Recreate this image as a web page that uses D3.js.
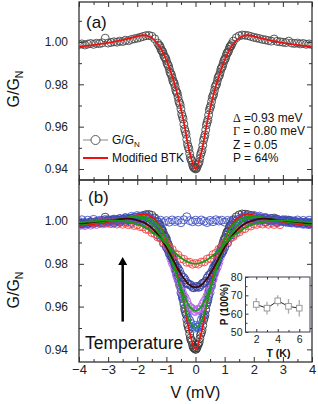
<!DOCTYPE html>
<html lang="en">
<head>
<meta charset="UTF-8">
<title>G/GN vs V</title>
<style>
  body { margin: 0; background: #fff; }
  svg { display: block; font-family: "Liberation Sans", Arial, sans-serif; }
</style>
</head>
<body>
<svg width="318" height="404"></svg>
<script src="https://d3js.org/d3.v7.min.js"></script>
<script>
// bias grids in mV (data sampled finer across the dip for the 2 K curve)
const vFine = [...d3.range(-40, -12).map(i => i / 10), ...d3.range(-25, 26).map(i => i / 20), ...d3.range(13, 41).map(i => i / 10)];
const vData = d3.range(-40, 41).map(i => i / 10);
const vFit = d3.range(-20, 21).map(i => i / 5);
// return sweeps, only across the dip
const vRet2K = d3.range(-49, 50, 2).map(i => i / 40);
const vRet = d3.range(-19, 20, 2).map(i => i / 20);

// 2 K data, panel (a) and lowest curve of panel (b)
const g2K = [
  .9988, .9991, .9986, .9990, .9993, .9989, .9994, .9992, .9996, 1.0018,
  .9995, .9998, 1.0001, .9999, 1.0004, 1.0002, 1.0008, 1.0006, 1.0012, 1.0015,
  1.0018, 1.0022, 1.0026, 1.0030, 1.0031, 1.0027, 1.0015, .9995,
  .9985, .9972, .9958, .9942, .9928, .9912, .9893, .9872, .9851, .9830,
  .9810, .9788, .9764, .9740, .9712, .9683, .9648, .9612, .9577, .9540,
  .9505, .9472, .9443, .9420, .9406, .9400,
  .9408, .9425, .9450, .9478, .9512, .9548, .9585, .9620, .9655, .9690,
  .9718, .9746, .9771, .9795, .9817, .9838, .9858, .9879, .9898, .9917,
  .9934, .9950, .9965, .9980, .9992,
  1.0004, 1.0020, 1.0029, 1.0033, 1.0032, 1.0030, 1.0026, 1.0022, 1.0019, 1.0016,
  1.0012, 1.0010, 1.0007, 1.0004, 1.0014, 1.0003, 1.0001, .9999, .9997, 1.0004,
  .9995, .9993, .9995, .9991, .9993, .9989, .9991, .9988
];
const g2KRet = [
  .9981, .9962, .9953, .9931, .9923, .9898, .9886, .9857, .9844, .9816,
  .9803, .9771, .9757, .9721, .9703, .9660, .9636, .9589, .9564, .9517,
  .9494, .9453, .9436, .9410, .9405,
  .9402, .9420, .9433, .9469, .9490, .9536, .9561, .9608, .9632, .9678,
  .9699, .9737, .9754, .9788, .9802, .9832, .9844, .9873, .9885, .9911,
  .9922, .9946, .9954, .9976, .9983
];
const g3K = [
  .9988, .9984, .9990, .9986, .9992, .9989, .9995, .9992, .9998, .9995,
  1.0003, .9999, 1.0006, 1.0003, 1.0010, 1.0008, 1.0016, 1.0013, 1.0022, 1.0019,
  1.0026, 1.0022, 1.0025, 1.0016, 1.0015, 1.0003, .9999, .9980, .9970, .9940,
  .9918, .9872, .9836, .9776, .9731, .9665, .9621, .9566, .9536, .9505,
  .9512,
  .9503, .9538, .9565, .9622, .9666, .9731, .9778, .9836, .9873, .9918,
  .9940, .9970, .9981, 1.0000, 1.0003, 1.0016, 1.0015, 1.0026, 1.0021, 1.0027,
  1.0019, 1.0023, 1.0014, 1.0017, 1.0008, 1.0011, 1.0003, 1.0007, .9999, 1.0003,
  .9995, .9999, .9991, .9996, .9988, .9993, .9985, .9990, .9983, .9988
];
const g3KRet = [
  .9896, .9851, .9810, .9752, .9701, .9640, .9595, .9546, .9521, .9499,
  .9504, .9515, .9552, .9589, .9646, .9695, .9758, .9804, .9858, .9890
];
const g4K = [
  .9978, .9983, .9979, .9985, .9981, .9987, .9984, .9990, .9987, .9993,
  .9991, .9997, .9994, 1.0000, .9998, 1.0004, 1.0002, 1.0008, 1.0005, 1.0012,
  1.0009, 1.0014, 1.0008, 1.0007, .9995, .9988, .9970, .9957, .9932, .9911,
  .9876, .9847, .9805, .9770, .9725, .9690, .9650, .9625, .9597, .9588,
  .9577,
  .9588, .9598, .9624, .9651, .9690, .9726, .9771, .9806, .9848, .9877,
  .9911, .9933, .9957, .9971, .9988, .9996, 1.0007, 1.0009, 1.0016, 1.0014,
  1.0019, 1.0014, 1.0016, 1.0010, 1.0012, 1.0006, 1.0008, 1.0002, 1.0004, .9998,
  1.0000, .9994, .9997, .9991, .9994, .9988, .9991, .9985, .9988, .9982
];
const g4KRet = [
  .9866, .9824, .9791, .9745, .9711, .9667, .9640, .9607, .9594, .9579,
  .9585, .9588, .9613, .9634, .9673, .9705, .9751, .9785, .9830, .9860
];
const g5K = [
  .9992, .9987, .9993, .9989, .9996, .9992, .9999, .9995, 1.0003, .9999,
  1.0006, 1.0002, 1.0009, 1.0005, 1.0012, 1.0007, 1.0014, 1.0008, 1.0013, 1.0004,
  1.0007, .9997, .9998, .9985, .9982, .9964, .9957, .9935, .9923, .9896,
  .9880, .9849, .9830, .9798, .9779, .9750, .9735, .9711, .9704, .9690,
  .9693,
  .9690, .9703, .9712, .9734, .9751, .9778, .9799, .9829, .9850, .9879,
  .9897, .9922, .9936, .9956, .9965, .9981, .9986, .9997, .9998, 1.0006,
  1.0004, 1.0013, 1.0008, 1.0014, 1.0007, 1.0012, 1.0005, 1.0009, 1.0002, 1.0006,
  .9999, 1.0003, .9995, 1.0000, .9992, .9997, .9989, .9994, .9987, .9992
];
const g5KRet = [
  .9868, .9837, .9817, .9786, .9767, .9739, .9725, .9704, .9699, .9688,
  .9694, .9693, .9710, .9719, .9745, .9761, .9792, .9811, .9843, .9862
];
const g6K = [
  null, null, null, null, null, .9993, .9998, .9991, .9996, .9989,
  .9995, .9988, .9994, .9986, .9993, .9985, .9991, .9983, .9987, .9979,
  .9982, .9974, .9973, .9962, .9960, .9946, .9942, .9926, .9920, .9902,
  .9894, .9874, .9867, .9847, .9841, .9824, .9821, .9807, .9807, .9798,
  .9802,
  .9799, .9808, .9809, .9822, .9826, .9843, .9849, .9868, .9876, .9895,
  .9903, .9921, .9928, .9944, .9949, .9962, .9965, .9977, .9977, .9987,
  .9984, .9992, .9986, .9993, .9985, .9992, .9984, .9991, .9983, null,
  null, null, null, null, null, null, null, null, null, null
];
const gHighT = [
  .9998, 1.0006, .9992, 1.0004, .9997, 1.0008, .9995, 1.0003, .9993, 1.0007,
  .9999, 1.0005, .9991, 1.0002, .9996, 1.0006, .9998, 1.0004, .9994, 1.0007,
  1.0000, 1.0009, 1.0016, 1.0025, 1.0018, 1.0006, 1.0010, .9999, 1.0004, .9993,
  1.0002, .9995, 1.0005, .9998, 1.0003, .9992, 1.0006, 1.0020, 1.0002, .9997,
  1.0004,
  .9996, 1.0005, .9999, .9993, 1.0003, .9997, 1.0006, 1.0000, 1.0004, .9995,
  1.0003, .9998, 1.0007, 1.0001, 1.0010, 1.0015, 1.0022, 1.0013, 1.0006, 1.0018,
  1.0009, 1.0002, 1.0006, .9997, 1.0004, 1.0000, 1.0007, .9995, 1.0003, .9998,
  1.0006, .9993, 1.0002, .9997, 1.0005, .9994, 1.0003, .9997, 1.0004, .9995
];

// modified BTK fits
const fit2K = [
  .9978, .9981, .9984, .9988, .9992, .9996, 1.0001, 1.0007, 1.0013, 1.0020,
  1.0027, 1.0032, 1.0027, 1.0008, .9972, .9915, .9838, .9742, .9620, .9478,
  .9400,
  .9478, .9620, .9742, .9838, .9915, .9972, 1.0008, 1.0027, 1.0032, 1.0027,
  1.0020, 1.0013, 1.0007, 1.0001, .9996, .9992, .9988, .9984, .9981, .9978
];
const fit3K = [
  .9985, .9987, .9990, .9993, .9996, 1.0000, 1.0004, 1.0009, 1.0014, 1.0020,
  1.0024, 1.0022, 1.0013, .9997, .9967, .9914, .9832, .9727, .9617, .9532,
  .9500,
  .9532, .9617, .9727, .9832, .9914, .9967, .9997, 1.0013, 1.0022, 1.0024,
  1.0020, 1.0014, 1.0009, 1.0004, 1.0000, .9996, .9993, .9990, .9987, .9985
];
const fit4K = [
  .9987, .9989, .9992, .9995, .9998, 1.0001, 1.0005, 1.0009, 1.0013, 1.0017,
  1.0017, 1.0011, .9998, .9973, .9935, .9879, .9808, .9728, .9653, .9600,
  .9580,
  .9600, .9653, .9728, .9808, .9879, .9935, .9973, .9998, 1.0011, 1.0017,
  1.0017, 1.0013, 1.0009, 1.0005, 1.0001, .9998, .9995, .9992, .9989, .9987
];
const fit5K = [
  .9989, .9991, .9994, .9997, 1.0000, 1.0003, 1.0006, 1.0009, 1.0011, 1.0010,
  1.0004, .9995, .9979, .9954, .9920, .9877, .9827, .9776, .9732, .9701,
  .9690,
  .9701, .9732, .9776, .9827, .9877, .9920, .9954, .9979, .9995, 1.0004,
  1.0010, 1.0011, 1.0009, 1.0006, 1.0003, 1.0000, .9997, .9994, .9991, .9989
];
const fit6K = [
  .9994, .9996, .9998, 1.0000, 1.0002, 1.0003, 1.0003, 1.0001, .9998, .9993,
  .9986, .9975, .9960, .9941, .9918, .9892, .9865, .9839, .9819, .9805,
  .9800,
  .9805, .9819, .9839, .9865, .9892, .9918, .9941, .9960, .9975, .9986,
  .9993, .9998, 1.0001, 1.0003, 1.0003, 1.0002, 1.0000, .9998, .9996, .9994
];

// inset: spin polarization vs temperature
const tempK = [2, 3, 4, 5, 6];
const polar = [65, 63, 67, 64, 63];
const polarErr = [3.5, 3.5, 3, 4, 4.5];

const yMajor = [0.94, 0.96, 0.98, 1.00];
const yMinor = [0.95, 0.97, 0.99, 1.01];
const xMajor = [-4, -3, -2, -1, 0, 1, 2, 3, 4];
const xMinor = [-3.5, -2.5, -1.5, -0.5, 0.5, 1.5, 2.5, 3.5];

const svg = d3.select('svg');
const left = 79, right = 312;
const ink = '#333';

const x = d3.scaleLinear().domain([-4, 4]).range([left, right]);
const yA = d3.scaleLinear().domain([0.9348, 1.0189]).range([180, 2]);
const yB = d3.scaleLinear().domain([0.9341, 1.0192]).range([362, 180]);

const pts = (vs, gs) => vs.map((v, i) => ({ v, g: gs[i] })).filter(d => d.g != null);

function panel(id, y, labels) {
  const [bot, top] = y.range();
  svg.append('clipPath').attr('id', id)
    .append('rect').attr('x', left).attr('y', top).attr('width', right - left).attr('height', bot - top);

  const ax = svg.append('g').attr('class', 'axes');
  const style = sel => {
    sel.select('.domain').remove();
    sel.selectAll('line').attr('stroke', ink);
    sel.selectAll('text').attr('fill', '#222').style('font-family', '"Liberation Sans", Arial, sans-serif');
  };
  ax.append('g').attr('transform', `translate(${left},0)`)
    .call(d3.axisLeft(y).tickValues(yMajor).tickSize(-5).tickPadding(11).tickFormat(d3.format('.2f')))
    .call(style).selectAll('text').style('font-size', '12px');
  ax.append('g').attr('transform', `translate(${left},0)`)
    .call(d3.axisLeft(y).tickValues(yMinor).tickSize(-3).tickFormat('')).call(style);
  ax.append('g').attr('transform', `translate(${right},0)`)
    .call(d3.axisRight(y).tickValues(yMajor).tickSize(-5).tickFormat('')).call(style);
  ax.append('g').attr('transform', `translate(${right},0)`)
    .call(d3.axisRight(y).tickValues(yMinor).tickSize(-3).tickFormat('')).call(style);

  const b = ax.append('g').attr('transform', `translate(0,${bot})`)
    .call(d3.axisBottom(x).tickValues(xMajor).tickSize(-5).tickPadding(2.5)
      .tickFormat(labels ? d3.format('d') : ''))
    .call(style);
  b.selectAll('text').style('font-size', '13px');
  ax.append('g').attr('transform', `translate(0,${bot})`)
    .call(d3.axisBottom(x).tickValues(xMinor).tickSize(-3).tickFormat('')).call(style);
  ax.append('g').attr('transform', `translate(0,${top})`)
    .call(d3.axisTop(x).tickValues(xMajor).tickSize(-5).tickFormat('')).call(style);
  ax.append('g').attr('transform', `translate(0,${top})`)
    .call(d3.axisTop(x).tickValues(xMinor).tickSize(-3).tickFormat('')).call(style);

  ax.append('rect').attr('x', left).attr('y', top).attr('width', right - left).attr('height', bot - top)
    .attr('fill', 'none').attr('stroke', ink).attr('stroke-width', 1.3);

  return svg.append('g').attr('clip-path', `url(#${id})`);
}

function dots(g, data, y, color) {
  g.append('g').selectAll('circle').data(data).join('circle')
    .attr('cx', d => x(d.v)).attr('cy', d => y(d.g)).attr('r', 4)
    .attr('fill', 'none').attr('stroke', color).attr('stroke-width', 0.9);
}

function curve(g, data, y, color) {
  const line = d3.line().x(d => x(d.v)).y(d => y(d.g)).curve(d3.curveCatmullRom.alpha(0.5));
  g.append('path').datum(data).attr('d', line)
    .attr('fill', 'none').attr('stroke', color).attr('stroke-width', 1.8);
}

// ---- panel (a)
const pa = panel('clipA', yA, false);
dots(pa, pts(vFine, g2K), yA, '#4a4a4a');
dots(pa, pts(vRet2K, g2KRet), yA, '#4a4a4a');
curve(pa, pts(vFit, fit2K), yA, '#ee1111');

// ---- panel (b)
const pb = panel('clipB', yB, true);
dots(pb, pts(vFine, g2K), yB, '#3a3a3a');
dots(pb, pts(vRet2K, g2KRet), yB, '#3a3a3a');
dots(pb, pts(vData, g3K), yB, '#3f5cd8');
dots(pb, pts(vRet, g3KRet), yB, '#3f5cd8');
dots(pb, pts(vData, g4K), yB, '#b462e8');
dots(pb, pts(vRet, g4KRet), yB, '#b462e8');
dots(pb, pts(vData, g5K), yB, '#34429f');
dots(pb, pts(vRet, g5KRet), yB, '#34429f');
dots(pb, pts(vData, g6K), yB, '#f24848');
dots(pb, pts(vData, gHighT), yB, '#4151c2');
curve(pb, pts(vFit, fit2K), yB, '#ee1111');
curve(pb, pts(vFit, fit3K), yB, '#149c14');
curve(pb, pts(vFit, fit4K), yB, '#149c14');
curve(pb, pts(vFit, fit5K), yB, '#3c0808');
curve(pb, pts(vFit, fit6K), yB, '#149c14');

// ---- texts, panel (a)
svg.append('text').attr('x', 86).attr('y', 27.5).style('font-size', '17px').attr('fill', '#111').text('(a)');
svg.append('text').attr('x', 88).attr('y', 203).style('font-size', '17px').attr('fill', '#111').text('(b)');

const yLabel = (cy) => {
  const t = svg.append('text').attr('transform', `translate(19,${cy}) rotate(-90)`)
    .attr('text-anchor', 'middle').style('font-size', '16px').attr('fill', '#111');
  t.append('tspan').text('G/G');
  t.append('tspan').attr('dy', 4).style('font-size', '10.5px').text('N');
};
yLabel(89);
yLabel(290);

svg.append('text').attr('x', x(0)).attr('y', 398).attr('text-anchor', 'middle')
  .style('font-size', '16px').attr('fill', '#111').text('V (mV)');

// legend
const lg = svg.append('g');
lg.append('line').attr('x1', 83).attr('x2', 108).attr('y1', 140).attr('y2', 140).attr('stroke', '#888');
lg.append('circle').attr('cx', 95.5).attr('cy', 140).attr('r', 4.5).attr('fill', '#fff').attr('stroke', '#4a4a4a').attr('stroke-width', 0.9);
const lt = lg.append('text').attr('x', 112).attr('y', 144).style('font-size', '12px').attr('fill', '#111');
lt.append('tspan').text('G/G');
lt.append('tspan').attr('dy', 3).style('font-size', '8px').text('N');
lg.append('line').attr('x1', 83).attr('x2', 108).attr('y1', 158).attr('y2', 158).attr('stroke', '#ee1111').attr('stroke-width', 2);
lg.append('text').attr('x', 112).attr('y', 162).style('font-size', '12px').attr('fill', '#111').text('Modified BTK');

// fit parameters
const params = [['\u0394', ' =0.93 meV'], ['\u0393', ' = 0.80 meV'], ['', 'Z = 0.05'], ['', 'P = 64%']];
params.forEach(([greek, rest], i) => {
  const t = svg.append('text').attr('x', 233).attr('y', 121.5 + i * 13.6).style('font-size', '12px').attr('fill', '#111');
  if (greek) t.append('tspan').style('font-family', '"Liberation Serif", "DejaVu Serif", serif').text(greek);
  t.append('tspan').text(rest);
});

// ---- panel (b) annotations
const arrowX = x(-2.5);
svg.append('line').attr('x1', arrowX).attr('x2', arrowX).attr('y1', yB(0.953)).attr('y2', yB(0.981))
  .attr('stroke', '#000').attr('stroke-width', 2.5);
svg.append('path')
  .attr('d', `M${arrowX},${yB(0.9832)} L${arrowX - 4.5},${yB(0.9795)} L${arrowX + 4.5},${yB(0.9795)} Z`)
  .attr('fill', '#000');
svg.append('text').attr('x', 85).attr('y', 349).style('font-size', '17.5px').attr('fill', '#111').text('Temperature');

// ---- inset
const ix = d3.scaleLinear().domain([1, 7]).range([245.5, 310]);
const iy = d3.scaleLinear().domain([50, 80]).range([332, 277]);
const inset = svg.append('g');
inset.append('rect').attr('x', 245.5).attr('y', 277).attr('width', 310 - 245.5).attr('height', 332 - 277)
  .attr('fill', '#fff');
const istyle = sel => {
  sel.select('.domain').remove();
  sel.selectAll('line').attr('stroke', ink);
  sel.selectAll('text').attr('fill', '#222').style('font-size', '10.5px')
    .style('font-family', '"Liberation Sans", Arial, sans-serif');
};
inset.append('g').attr('transform', 'translate(245.5,0)')
  .call(d3.axisLeft(iy).tickValues([50, 60, 70, 80]).tickSize(-3).tickPadding(3).tickFormat(d3.format('d'))).call(istyle);
inset.append('g').attr('transform', 'translate(245.5,0)')
  .call(d3.axisLeft(iy).tickValues([55, 65, 75]).tickSize(-2).tickFormat('')).call(istyle);
inset.append('g').attr('transform', 'translate(0,332)')
  .call(d3.axisBottom(ix).tickValues([2, 4, 6]).tickSize(-3).tickPadding(4).tickFormat(d3.format('d'))).call(istyle);
inset.append('g').attr('transform', 'translate(0,332)')
  .call(d3.axisBottom(ix).tickValues([3, 5]).tickSize(-2).tickFormat('')).call(istyle);
inset.append('g').attr('transform', 'translate(0,277)')
  .call(d3.axisTop(ix).tickValues([2, 3, 4, 5, 6]).tickSize(-2.5).tickFormat('')).call(istyle);
inset.append('rect').attr('x', 245.5).attr('y', 277).attr('width', 310 - 245.5).attr('height', 332 - 277)
  .attr('fill', 'none').attr('stroke', '#3a3d55').attr('stroke-width', 1);

const ipts = tempK.map((t, i) => ({ t, p: polar[i], e: polarErr[i] }));
inset.append('g').selectAll('line').data(ipts).join('line')
  .attr('x1', d => ix(d.t)).attr('x2', d => ix(d.t))
  .attr('y1', d => iy(d.p - d.e)).attr('y2', d => iy(d.p + d.e))
  .attr('stroke', '#aaa').attr('stroke-width', 1.3);
inset.append('path').datum(ipts)
  .attr('d', d3.line().x(d => ix(d.t)).y(d => iy(d.p)))
  .attr('fill', 'none').attr('stroke', '#222').attr('stroke-width', 1);
inset.append('g').selectAll('rect').data(ipts).join('rect')
  .attr('x', d => ix(d.t) - 2.8).attr('y', d => iy(d.p) - 2.8).attr('width', 5.6).attr('height', 5.6)
  .attr('fill', '#fff').attr('stroke', '#999').attr('stroke-width', 1);

inset.append('text').attr('x', 278.5).attr('y', 357).attr('text-anchor', 'middle')
  .style('font-size', '10.5px').style('font-weight', 'bold').attr('fill', '#111').text('T (K)');
inset.append('text').attr('transform', `translate(228,${iy(65)}) rotate(-90)`).attr('text-anchor', 'middle')
  .style('font-size', '10px').style('font-weight', 'bold').attr('fill', '#111').text('P (100%)');
</script>
</body>
</html>
